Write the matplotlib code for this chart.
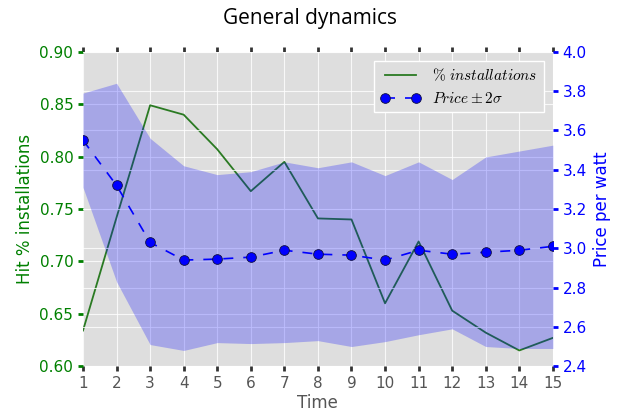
import numpy as np
import matplotlib.pyplot as plt

time = np.arange(1, 16)
hit_pct = [0.634, 0.742, 0.849, 0.840, 0.807, 0.767, 0.795, 0.741, 0.740, 0.660, 0.719, 0.653, 0.632, 0.615, 0.627]
price = [3.55, 3.32, 3.03, 2.94, 2.945, 2.955, 2.99, 2.97, 2.965, 2.94, 2.99, 2.97, 2.98, 2.99, 3.01]
upper = [3.79, 3.84, 3.56, 3.42, 3.375, 3.39, 3.44, 3.41, 3.44, 3.37, 3.44, 3.35, 3.465, 3.495, 3.525]
lower = [3.31, 2.83, 2.51, 2.48, 2.52, 2.515, 2.52, 2.53, 2.50, 2.525, 2.56, 2.59, 2.50, 2.49, 2.49]

plt.rcParams['mathtext.fontset'] = 'cm'

fig = plt.figure(figsize=(6.24, 4.18), dpi=100)
ax1 = fig.add_axes([0.133, 0.124, 0.753, 0.752])
ax1.set_facecolor('#dedede')
ax2 = ax1.twinx()
ax2.patch.set_visible(False)

ax1.plot(time, hit_pct, color='#2a7a22', linewidth=1.3, label=r'$\%\ installations$')
ax2.fill_between(time, lower, upper, color='blue', alpha=0.25, linewidth=0)
ax2.plot(time, price, 'o--', color='blue', markersize=7, markeredgecolor='#101040',
         markeredgewidth=0.6, linewidth=1.2, dashes=(6, 6), label=r'$Price \pm 2\sigma$')

ax1.set_xlim(1, 15)
ax1.set_ylim(0.60, 0.90)
ax2.set_ylim(2.4, 4.0)
ax1.set_xticks(time)
ax1.set_yticks(np.arange(0.60, 0.91, 0.05))
ax2.set_yticks(np.arange(2.4, 4.01, 0.2))

for ax in (ax1, ax2):
    for s in ax.spines.values():
        s.set_visible(False)
    ax.grid(True, color='white', linewidth=0.8, alpha=0.8)
    ax.set_axisbelow(True)
ax2.grid(False, axis='x')

ax1.tick_params(axis='x', top=True, direction='out', length=3.5, width=2, color='#333333',
                labelsize=11, labelcolor='#555555')
ax1.tick_params(axis='y', direction='out', length=3.5, width=2, color='green',
                labelsize=11, labelcolor='green')
ax2.tick_params(axis='y', direction='out', length=3.5, width=2, color='blue',
                labelsize=11, labelcolor='blue')
ax1.yaxis.set_major_formatter(plt.FormatStrFormatter('%.2f'))
ax2.yaxis.set_major_formatter(plt.FormatStrFormatter('%.1f'))

ax1.set_xlabel('Time', fontsize=12, color='#555555', labelpad=2)
ax1.set_ylabel('Hit % installations', fontsize=12, color='green')
ax2.set_ylabel('Price per watt', fontsize=12, color='blue')

h1, l1 = ax1.get_legend_handles_labels()
h2, l2 = ax2.get_legend_handles_labels()
leg = ax2.legend(h1 + h2, l1 + l2, loc='upper right', fontsize=11, facecolor='#dedede',
                 edgecolor='white', framealpha=1, fancybox=False, numpoints=2,
                 handlelength=2.6, bbox_to_anchor=(0.997, 0.995))

fig.text(0.497, 0.955, 'General dynamics', ha='center', va='center', fontsize=15,
         family='Open Sans')

fig.savefig('out.png', dpi=100)
